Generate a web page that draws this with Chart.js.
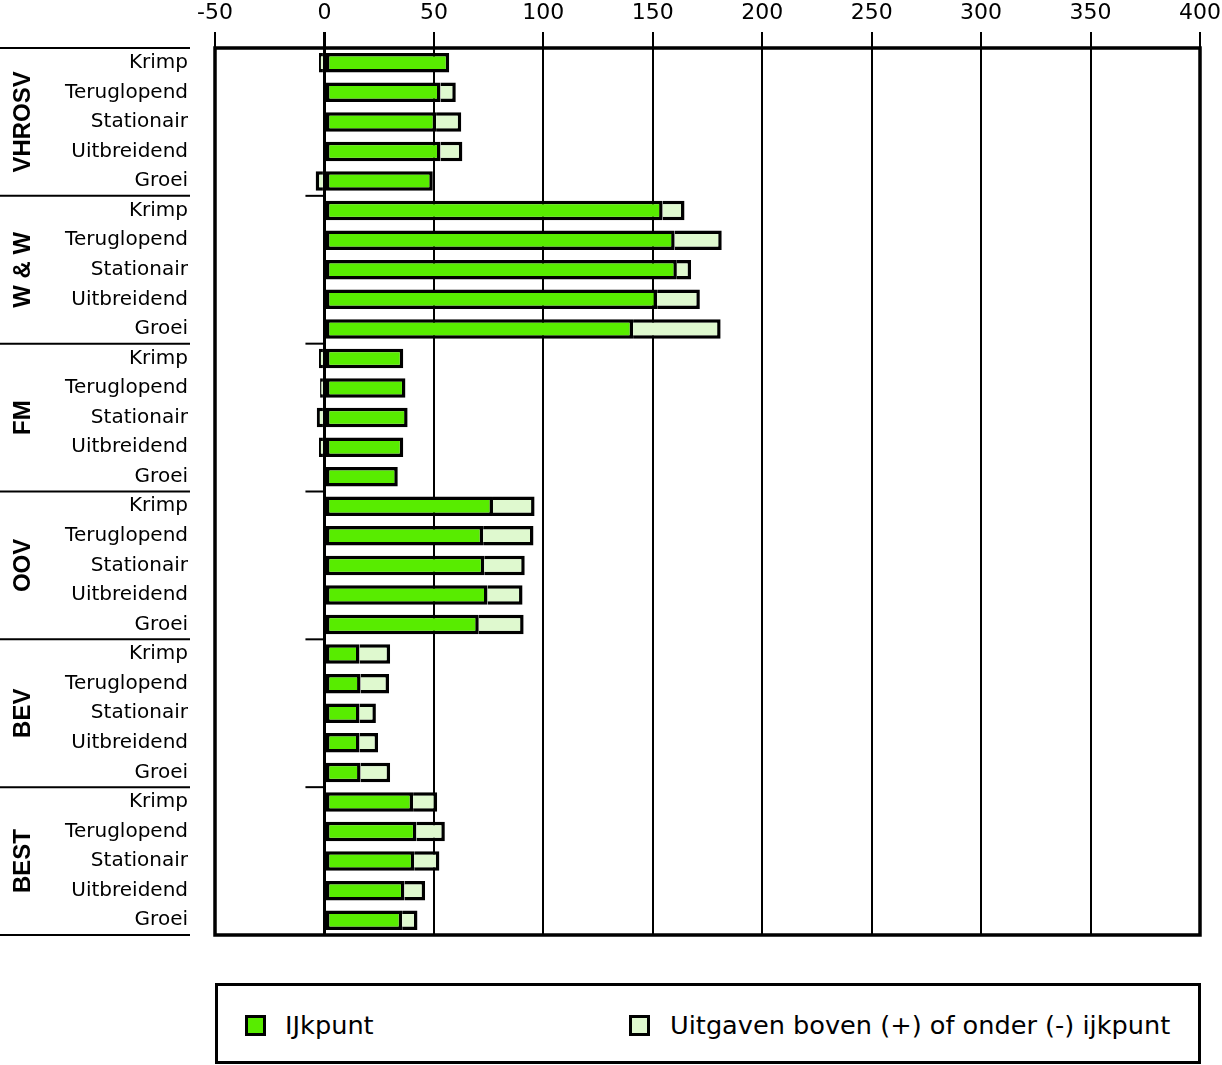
<!DOCTYPE html>
<html lang="nl">
<head>
<meta charset="UTF-8">
<title>IJkpunt per fase</title>
<script src="https://cdn.jsdelivr.net/npm/chart.js"></script>
<style>
  body { margin: 0; background: #fff; }
  #wrap { position: relative; width: 1222px; height: 1065px; font-family: "DejaVu Sans", sans-serif; }
  #chart { position: absolute; left: 0; top: 0; }
  #legend { position: absolute; left: 215px; top: 983px; width: 980px; height: 75px; border: 3px solid #000; }
  .item { position: absolute; top: 24px; font-size: 25.6px; line-height: 30px; color: #000; }
  .box { position: absolute; top: 5px; width: 15px; height: 15px; border: 3px solid #000; }
  .item span.txt { position: absolute; white-space: nowrap; }
</style>
</head>
<body>
<div id="wrap">
  <canvas id="chart" width="1222" height="950"></canvas>
  <div id="legend">
    <div class="item" style="left:27px"><div class="box" style="background:#58ec00"></div><span class="txt" style="left:40px">IJkpunt</span></div>
    <div class="item" style="left:411px"><div class="box" style="background:#dff9cf"></div><span class="txt" style="left:41px">Uitgaven boven (+) of onder (-) ijkpunt</span></div>
  </div>
</div>
<script>
// groepen en fasen
const groups = ['VHROSV', 'W & W', 'FM', 'OOV', 'BEV', 'BEST'];
const phases = ['Krimp', 'Teruglopend', 'Stationair', 'Uitbreidend', 'Groei'];

// waarden per rij (6 groepen x 5 fasen)
const ijkpunt = [57, 53, 51, 53, 49.5,
                 154.5, 160, 161, 152, 141,
                 36, 37, 38, 36, 33.5,
                 77, 72.5, 73, 74.5, 70.5,
                 16, 16.5, 16, 16, 16.5,
                 40.5, 42, 41, 36.5, 35.5];
const afwijking = [-2.5, 7, 11.5, 10, -4,
                   10, 21.5, 6.5, 19.5, 40,
                   -2.5, -2, -3.5, -2.5, 0,
                   19, 23, 18.5, 16, 20.5,
                   14, 13, 7.5, 8.5, 13.5,
                   11, 13, 11.5, 9.5, 7];

const xTicks = [-50, 0, 50, 100, 150, 200, 250, 300, 350, 400];

const labels = [];
groups.forEach(() => phases.forEach(p => labels.push(p)));

function noPad(s) {
  s.paddingLeft = 0; s.paddingRight = 0; s.paddingTop = 0; s.paddingBottom = 0;
}

// groepslabels, scheidingslijnen en kader
const decorations = {
  id: 'decorations',
  afterDatasetsDraw(chart) {
    const ctx = chart.ctx;
    const area = chart.chartArea;
    const y = chart.scales.y;
    const x0 = chart.scales.x.getPixelForValue(0);
    const n = phases.length;
    const step = y.getPixelForValue(1) - y.getPixelForValue(0);
    ctx.save();
    ctx.strokeStyle = '#000';
    ctx.lineWidth = 2;
    for (let g = 0; g <= groups.length; g++) {
      const py = g === 0 ? area.top : (g === groups.length ? area.bottom : y.getPixelForValue(g * n) - step / 2);
      ctx.beginPath();
      ctx.moveTo(0, py);
      ctx.lineTo(190, py);
      ctx.stroke();
      if (g > 0 && g < groups.length) {
        ctx.beginPath();
        ctx.moveTo(x0 - 19, py);
        ctx.lineTo(x0, py);
        ctx.stroke();
      }
    }
    ctx.fillStyle = '#000';
    ctx.font = 'bold 24px "Liberation Sans", Arial, sans-serif';
    ctx.textAlign = 'center';
    ctx.textBaseline = 'middle';
    groups.forEach((name, g) => {
      const cy = (y.getPixelForValue(g * n) + y.getPixelForValue(g * n + n - 1)) / 2;
      ctx.save();
      ctx.translate(23, cy);
      ctx.rotate(-Math.PI / 2);
      ctx.fillText(name, 0, 0);
      ctx.restore();
    });
    ctx.lineWidth = 3.5;
    ctx.strokeRect(area.left, area.top, area.right - area.left, area.bottom - area.top);
    ctx.restore();
  }
};

new Chart(document.getElementById('chart'), {
  type: 'bar',
  data: {
    labels: labels,
    datasets: [{
      label: 'IJkpunt',
      data: ijkpunt,
      backgroundColor: '#58ec00',
      borderColor: '#000',
      borderWidth: 3.5,
      borderSkipped: false,
      categoryPercentage: 1,
      barPercentage: 0.66
    }, {
      label: 'Uitgaven boven (+) of onder (-) ijkpunt',
      data: afwijking,
      backgroundColor: '#dff9cf',
      borderColor: '#000',
      borderWidth: 3.5,
      borderSkipped: 'start',
      categoryPercentage: 1,
      barPercentage: 0.66
    }]
  },
  options: {
    indexAxis: 'y',
    responsive: false,
    animation: false,
    layout: { padding: { left: 0, right: 22, top: 0, bottom: 15 } },
    plugins: { legend: { display: false }, tooltip: { enabled: false } },
    scales: {
      x: {
        position: 'top',
        stacked: true,
        min: -50,
        max: 400,
        afterBuildTicks: s => { s.ticks = xTicks.map(v => ({ value: v })); },
        afterFit: s => { s.height = 48; noPad(s); },
        ticks: {
          color: '#000',
          padding: 6,
          font: { family: 'DejaVu Sans', size: 22 }
        },
        grid: {
          color: '#000',
          lineWidth: c => (c.tick && c.tick.value === 0 ? 3 : 2),
          tickLength: 16
        },
        border: { display: false }
      },
      y: {
        stacked: true,
        afterFit: s => { s.width = 215; noPad(s); },
        ticks: {
          color: '#000',
          padding: 27,
          font: { family: 'DejaVu Sans', size: 20 }
        },
        grid: { display: false, drawTicks: false },
        border: { display: false }
      }
    }
  },
  plugins: [decorations]
});
</script>
</body>
</html>
